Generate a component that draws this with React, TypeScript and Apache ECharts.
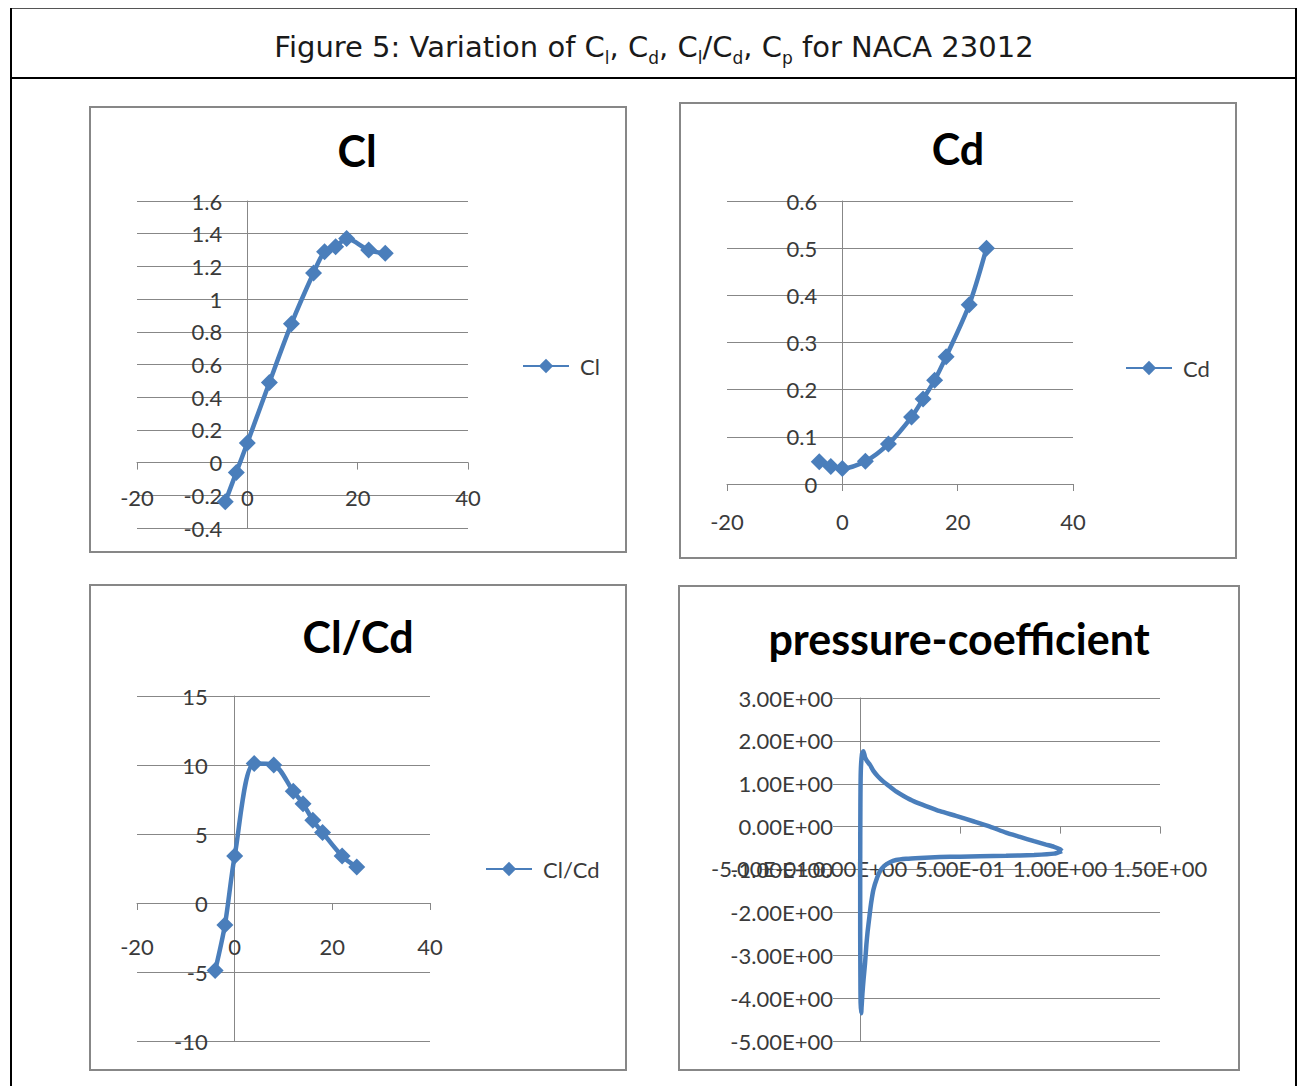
import React, { useEffect, useRef } from 'react';
import * as echarts from 'echarts';

// ---- data ----
const alphaDeg = [-4, -2, 0, 4, 8, 12, 14, 16, 18, 22, 25];
const clValues = [-0.24, -0.06, 0.12, 0.49, 0.85, 1.16, 1.29, 1.32, 1.37, 1.3, 1.28];
const cdValues = [0.047, 0.037, 0.033, 0.048, 0.085, 0.142, 0.18, 0.22, 0.27, 0.38, 0.5];
const clCdValues = [-4.9, -1.6, 3.4, 10.1, 10.0, 8.1, 7.2, 6.0, 5.1, 3.4, 2.6];

const pcX = [
  1.01, 0.97, 0.87, 0.73, 0.6, 0.5, 0.4, 0.3, 0.23, 0.18, 0.15, 0.12, 0.1, 0.085, 0.067, 0.055,
  0.047, 0.038, 0.032, 0.025, 0.018, 0.012, 0.008, 0.006, 0.003, 0.002, 0.001, 0.001, 0.002,
  0.004, 0.01, 0.017, 0.025, 0.035, 0.05, 0.067, 0.09, 0.117, 0.15, 0.18, 0.22, 0.27, 0.33, 0.4,
  0.48, 0.57, 0.65, 0.73, 0.8, 0.87, 0.93, 0.97, 1.0, 1.01,
];
const pcY = [
  -0.57, -0.63, -0.66, -0.68, -0.69, -0.7, -0.71, -0.73, -0.75, -0.78, -0.83, -0.92, -1.04, -1.2,
  -1.47, -1.8, -2.1, -2.45, -2.75, -3.2, -3.55, -3.9, -4.2, -4.35, -4.1, -3.5, -2.5, -1.0, 0.5,
  1.3, 1.7, 1.76, 1.62, 1.53, 1.44, 1.3, 1.17, 1.05, 0.93, 0.82, 0.71, 0.59, 0.48, 0.36, 0.25,
  0.12, 0.0, -0.14, -0.24, -0.34, -0.42, -0.47, -0.53, -0.57,
];

// axis ranges: [xMin, xMax, xStep, yMin, yMax, yStep]
const axisRanges = [
  [-20, 40, 20, -0.4, 1.6, 0.2],
  [-20, 40, 20, 0, 0.6, 0.1],
  [-20, 40, 20, -10, 15, 5],
  [-0.5, 1.5, 0.5, -5, 3, 1],
];

const chartTitles = ['Cl', 'Cd', 'Cl/Cd', 'pressure-coefficient'];
const seriesNames = ['Cl', 'Cd', 'Cl/Cd', 'Cp'];

// ---- layout / styles ----
const grids = [
  [137, 201, 331, 327],
  [727, 201, 346, 283],
  [137, 696, 293, 345],
  [760, 698, 400, 343],
];
const xLabelMargin = [24, 26, 32, 31];
const yLabelMargin = [25, 25, 27, 27];

const BLUE = '#4A7EBB';
const GRAY = '#878787';
const LABEL = '#3a3a3a';
const FONT = 'Lato';

const sci = (v: number) => {
  if (Math.abs(v) < 1e-12) return '0.00E+00';
  const [m, e] = v.toExponential(2).split('e');
  const n = parseInt(e, 10);
  return m + 'E' + (n < 0 ? '-' : '+') + String(Math.abs(n)).padStart(2, '0');
};

function xAxisCfg(i: number, formatter?: any) {
  const [xMin, xMax, xStep, yMin, yMax] = axisRanges[i];
  const h = grids[i][3];
  const offset = -((0 - yMin) / (yMax - yMin)) * h;
  return {
    type: 'value',
    gridIndex: i,
    position: 'bottom',
    offset,
    min: xMin,
    max: xMax,
    interval: xStep,
    axisLine: { show: true, onZero: false, lineStyle: { color: GRAY, width: 1 } },
    axisTick: { show: true, length: 7, lineStyle: { color: GRAY, width: 1 } },
    axisLabel: { color: LABEL, fontFamily: FONT, fontSize: 22, margin: xLabelMargin[i], formatter },
    splitLine: { show: false },
  };
}

function yAxisCfg(i: number, extraLabel?: any) {
  const [xMin, xMax, , yMin, yMax, yStep] = axisRanges[i];
  const w = grids[i][2];
  const offset = -((0 - xMin) / (xMax - xMin)) * w;
  return {
    type: 'value',
    gridIndex: i,
    position: 'left',
    offset,
    min: yMin,
    max: yMax,
    interval: yStep,
    axisLine: { show: true, onZero: false, lineStyle: { color: GRAY, width: 1 } },
    axisTick: { show: false },
    axisLabel: { color: LABEL, fontFamily: FONT, fontSize: 22, margin: yLabelMargin[i], ...(extraLabel || {}) },
    splitLine: { show: true, lineStyle: { color: GRAY, width: 1 } },
  };
}

function lineSeries(i: number, xs: number[], ys: number[], withSymbol: boolean) {
  return {
    type: 'line',
    name: seriesNames[i],
    xAxisIndex: i,
    yAxisIndex: i,
    data: xs.map((x, k) => [x, ys[k]]),
    smooth: withSymbol ? 0.3 : 0.2,
    symbol: 'diamond',
    symbolSize: 17,
    showSymbol: withSymbol,
    lineStyle: { color: BLUE, width: 4.5 },
    itemStyle: { color: BLUE },
    clip: false,
  };
}

function legendCfg(name: string, left: number, top: number) {
  return {
    data: [name],
    left,
    top,
    padding: 0,
    orient: 'horizontal',
    itemWidth: 46,
    itemHeight: 18,
    selectedMode: false,
    textStyle: { fontFamily: FONT, fontSize: 22, color: LABEL, padding: [0, 0, 0, 6] },
  };
}

const boxes = [
  [90, 107, 536, 445],
  [680, 103, 556, 455],
  [90, 585, 536, 485],
  [679, 586, 560, 484],
];
const titlePos = [
  [357, 150],
  [958, 148],
  [358, 636],
  [959, 638],
];

export default function App() {
  const ref = useRef<HTMLDivElement>(null);
  useEffect(() => {
    if (!ref.current) return;
    const chart = echarts.init(ref.current, undefined, { renderer: 'svg' });
    const subStyle = { fontFamily: 'DejaVu Sans', fontSize: 17, lineHeight: 38, verticalAlign: 'bottom', fill: '#1a1a1a' } as any;
    const option: any = {
      animation: false,
      backgroundColor: '#ffffff',
      grid: grids.map((g) => ({ left: g[0], top: g[1], width: g[2], height: g[3], outerBoundsMode: 'none' })),
      xAxis: [xAxisCfg(0), xAxisCfg(1), xAxisCfg(2), xAxisCfg(3, (v: number) => sci(v))],
      yAxis: [
        yAxisCfg(0),
        yAxisCfg(1),
        yAxisCfg(2),
        yAxisCfg(3, {
          formatter: (v: number) => (Math.abs(v + 1) < 1e-9 ? `{n|${sci(v)}}` : `{w|${sci(v)}}`),
          rich: {
            w: { backgroundColor: '#ffffff', color: LABEL, fontFamily: FONT, fontSize: 22, padding: [3, 0, 3, 4] },
            n: { color: LABEL, fontFamily: FONT, fontSize: 22 },
          },
        }),
      ],
      legend: [legendCfg('Cl', 522, 355), legendCfg('Cd', 1125, 357), legendCfg('Cl/Cd', 485, 858)],
      series: [
        lineSeries(0, alphaDeg, clValues, true),
        lineSeries(1, alphaDeg, cdValues, true),
        lineSeries(2, alphaDeg, clCdValues, true),
        lineSeries(3, pcX, pcY, false),
      ],
      graphic: [
        { type: 'line', shape: { x1: 10, y1: 8.5, x2: 1297, y2: 8.5 }, style: { stroke: '#555555', lineWidth: 1 } },
        { type: 'line', shape: { x1: 11, y1: 8, x2: 11, y2: 1086 }, style: { stroke: '#000000', lineWidth: 2 } },
        { type: 'line', shape: { x1: 1296, y1: 8, x2: 1296, y2: 1086 }, style: { stroke: '#000000', lineWidth: 2 } },
        { type: 'line', shape: { x1: 10, y1: 78, x2: 1297, y2: 78 }, style: { stroke: '#000000', lineWidth: 2 } },
        {
          type: 'text',
          x: 654,
          y: 47,
          style: {
            text: 'Figure 5: Variation of C{s|l}, C{s|d}, C{s|l}/C{s|d}, C{s|p} for NACA 23012',
            fontFamily: 'DejaVu Sans',
            fontSize: 29,
            lineHeight: 38,
            fill: '#1a1a1a',
            align: 'center',
            verticalAlign: 'middle',
            textAlign: 'center',
            textVerticalAlign: 'middle',
            rich: { s: subStyle },
          },
        },
        ...boxes.map((b) => ({
          type: 'rect',
          shape: { x: b[0], y: b[1], width: b[2], height: b[3] },
          style: { fill: 'none', stroke: GRAY, lineWidth: 2 },
          z: -1,
        })),
        ...chartTitles.map((t, i) => ({
          type: 'text',
          x: titlePos[i][0],
          y: titlePos[i][1],
          style: {
            text: t,
            fontFamily: FONT,
            fontWeight: 'bold',
            fontSize: 43,
            fill: '#000000',
            align: 'center',
            verticalAlign: 'middle',
            textAlign: 'center',
            textVerticalAlign: 'middle',
          },
        })),
      ],
    };
    chart.setOption(option);
    return () => chart.dispose();
  }, []);
  return (
    <div
      ref={ref}
      style={{ position: 'absolute', left: 0, top: 0, width: 1298, height: 1086, background: '#fff' }}
    />
  );
}
